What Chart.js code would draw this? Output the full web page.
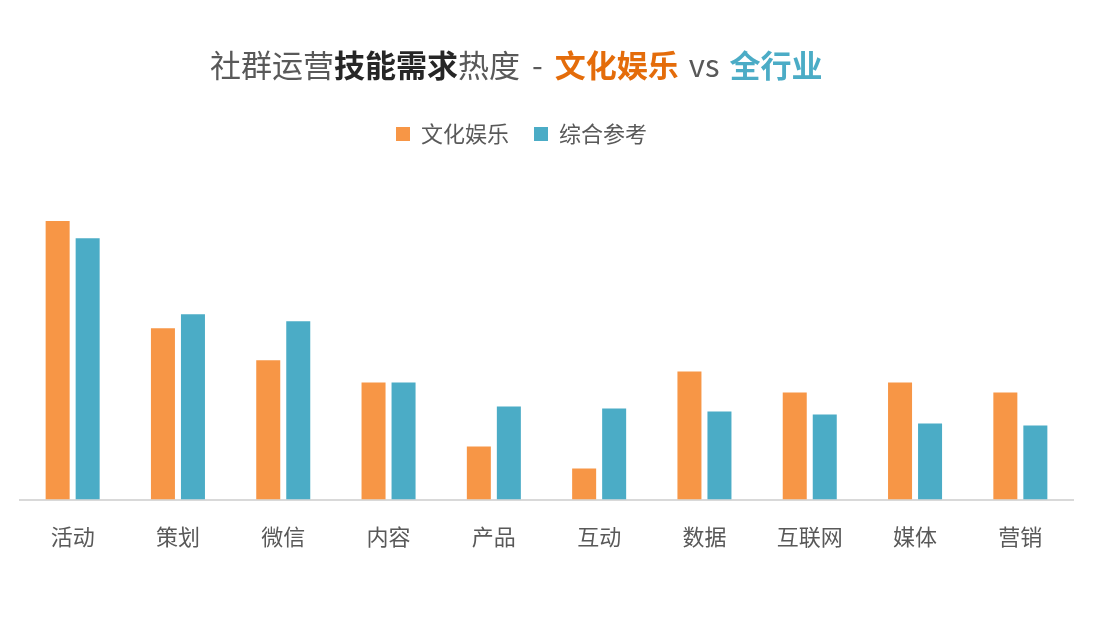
<!DOCTYPE html>
<html>
<head>
<meta charset="utf-8">
<title>社群运营技能需求热度</title>
<script src="https://cdn.jsdelivr.net/npm/chart.js@4/dist/chart.umd.min.js"></script>
<style>
    body { margin: 0; background: #fff; }
    .wrap { position: relative; width: 1110px; height: 630px; }
    .title {
        position: absolute; left: 210px; top: 41px; height: 46px;
        line-height: 46px; white-space: nowrap;
        font-family: "Noto Sans CJK SC", "Noto Sans", sans-serif;
        font-size: 31px; color: #595959;
    }
    .title b { font-weight: 700; color: #262626; }
    .title .sep { margin: 0 12px; }
    .title .vs { margin: 0 10px; }
    .title .ent { font-weight: 700; color: #E46C0A; }
    .title .all { font-weight: 700; color: #4BACC6; }
    canvas { position: absolute; left: 0; top: 0; }
</style>
</head>
<body>
<div class="wrap">
    <canvas id="skillChart" width="1110" height="630"></canvas>
    <div class="title">社群运营<b>技能需求</b>热度<span class="sep">-</span><span class="ent">文化娱乐</span><span class="vs">vs</span><span class="all">全行业</span></div>
</div>
<script>
// 技能类别
const categories = ['活动', '策划', '微信', '内容', '产品', '互动', '数据', '互联网', '媒体', '营销'];
// 文化娱乐行业需求热度
const entertainmentValues = [27.8, 17.1, 13.9, 11.7, 5.3, 3.1, 12.8, 10.7, 11.7, 10.7];
// 综合参考（全行业）
const overallValues = [26.1, 18.5, 17.8, 11.7, 9.3, 9.1, 8.8, 8.5, 7.6, 7.4];
const seriesNames = ['文化娱乐', '综合参考'];

const orange = '#F79646';
const blue = '#4BACC6';
const fontFamily = '"Noto Sans CJK SC", "Noto Sans", sans-serif';

// the legend in the original sits a little left of the plot centre
const legendShift = {
    id: 'legendShift',
    afterLayout(chart) {
        if (chart.legend) {
            chart.legend.left -= 25;
            chart.legend.right -= 25;
        }
    }
};

const ctx = document.getElementById('skillChart').getContext('2d');

new Chart(ctx, {
    type: 'bar',
    data: {
        labels: categories,
        datasets: [
            {
                label: seriesNames[0],
                data: entertainmentValues,
                backgroundColor: orange,
                borderWidth: 0
            },
            {
                label: seriesNames[1],
                data: overallValues,
                backgroundColor: blue,
                borderWidth: 0
            }
        ]
    },
    options: {
        responsive: false,
        animation: false,
        devicePixelRatio: 1,
        layout: {
            padding: { top: 98, left: 20, right: 37, bottom: 64 }
        },
        datasets: {
            bar: {
                barPercentage: 0.8,
                categoryPercentage: 0.57
            }
        },
        plugins: {
            legend: {
                position: 'top',
                labels: {
                    boxWidth: 14,
                    boxHeight: 14,
                    padding: 25,
                    color: '#595959',
                    font: { family: fontFamily, size: 22 }
                }
            },
            tooltip: { enabled: false }
        },
        scales: {
            x: {
                grid: { display: false },
                border: { display: true, color: '#D9D9D9', width: 2 },
                ticks: {
                    color: '#595959',
                    padding: 16,
                    font: { family: fontFamily, size: 22 }
                }
            },
            y: {
                display: false,
                min: 0,
                max: 34.4
            }
        }
    },
    plugins: [legendShift]
});
</script>
</body>
</html>
